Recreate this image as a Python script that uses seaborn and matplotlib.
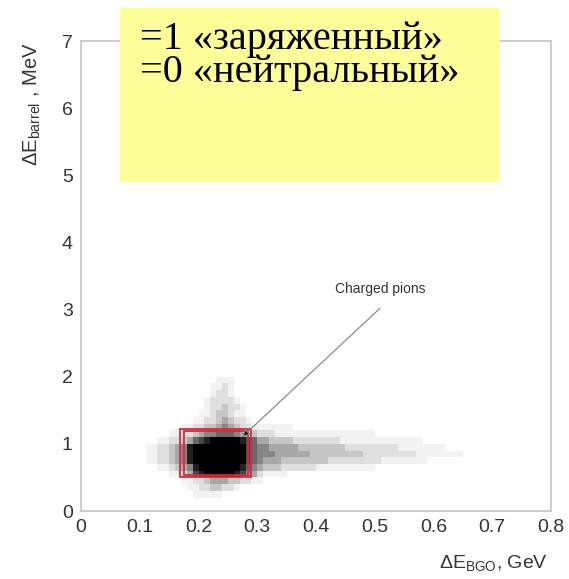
import numpy as np
import pandas as pd
import matplotlib
matplotlib.use("Agg")
import matplotlib.pyplot as plt
import seaborn as sns
from matplotlib.patches import Rectangle
from matplotlib.ticker import MultipleLocator

# ---- data ----
# 2D histogram: x bins of 0.01 GeV starting at 0.10, y bins of 0.1 MeV
x_bin_start = 0.10
x_bin_width = 0.01
n_x_bins = 60
y_bin_width = 0.1
# lower edge of each y-row (top to bottom)
row_y = [1.9, 1.8, 1.7, 1.6, 1.5, 1.4, 1.3, 1.2, 1.1, 1.0,
         0.9, 0.8, 0.7, 0.6, 0.5, 0.4, 0.3, 0.2]
# first x-bin index of each row and the intensities (0-9) that follow
row_start = [13, 12, 12, 11, 11, 10, 9, 7, 5, 3,
             1, 1, 1, 3, 5, 7, 8, 9]
row_levels = [
    "111",
    "1121",
    "1221",
    "122221",
    "1223221",
    "11233211",
    "1122343221",
    "1122334543221" + "111111",
    "1122345566654332" + "2211111111111111111",
    "11223467899999876" + "4433332222222211111111111111",
    "11223458999999999765" + "5444443333333322222222211111111",
    "11223458999999999765" + "5544444433333333322222222211111111",
    "11223458999999999765" + "4443333333322222222211111111",
    "112345899999998654" + "3332222221111111111",
    "1124789999987542" + "1111",
    "11223444332211",
    "112233221",
    "11111",
]

x_ticks = [0, 0.1, 0.2, 0.3, 0.4, 0.5, 0.6, 0.7, 0.8]
x_tick_labels = ["0", "0.1", "0.2", "0.3", "0.4", "0.5", "0.6", "0.7", "0.8"]
y_ticks = [0, 1, 2, 3, 4, 5, 6, 7]
y_tick_labels = ["0", "1", "2", "3", "4", "5", "6", "7"]

cut_outer = (0.168, 0.50, 0.290, 1.22)
cut_inner = (0.176, 0.535, 0.284, 1.185)
arrow_tip = (0.274, 1.10)
arrow_tail = (0.509, 3.02)
note_pos = (0.509, 3.31)
note_text = "Charged pions"
legend_lines = ["=1 «заряженный»", "=0 «нейтральный»"]

# ---- build table ----
recs = []
for y0, s0, lev in zip(row_y, row_start, row_levels):
    for j, ch in enumerate(lev):
        v = int(ch)
        if v > 0:
            recs.append({"x": x_bin_start + x_bin_width * (s0 + j + 0.5),
                         "y": y0 + y_bin_width / 2,
                         "w": v})
df = pd.DataFrame(recs)
x_edges = np.round(x_bin_start + x_bin_width * np.arange(n_x_bins + 1), 4)
y_edges = np.round(np.arange(0, 2.01, y_bin_width), 4)

# ---- figure ----
sns.set_style("white")
plt.rcParams["font.family"] = ["Liberation Sans", "DejaVu Sans"]
plt.rcParams["mathtext.default"] = "regular"

W, H = 569, 579
fig = plt.figure(figsize=(W / 100, H / 100), dpi=100)
ax = fig.add_axes([81 / W, 1 - 511 / H, 470 / W, 470 / H])

sns.histplot(data=df, x="x", y="y", weights="w", bins=[x_edges, y_edges],
             cmap="Greys", vmin=0, vmax=9, ax=ax)

ax.set_xlim(0, 0.8)
ax.set_ylim(0, 7)
ax.set_xticks(x_ticks)
ax.set_xticklabels(x_tick_labels)
ax.set_yticks(y_ticks)
ax.set_yticklabels(y_tick_labels)
ax.xaxis.set_minor_locator(MultipleLocator(0.02))
ax.yaxis.set_minor_locator(MultipleLocator(0.5))
ax.tick_params(which="both", direction="in", color="#b8b8b8", top=False, right=False)
ax.tick_params(which="major", length=5, width=1, labelsize=14, labelcolor="#333333", pad=6)
ax.tick_params(which="minor", length=3, width=0.8)
for sp in ax.spines.values():
    sp.set_color("#c4c4c4")
    sp.set_linewidth(1.2)
ax.set_xlabel("")
ax.set_ylabel("")

# cut rectangles
for (x0, y0, x1, y1) in (cut_outer, cut_inner):
    ax.add_patch(Rectangle((x0, y0), x1 - x0, y1 - y0, fill=False,
                           ec="#d42a3c", lw=1.3, zorder=4))

# annotation
ax.annotate("", xy=arrow_tip, xytext=arrow_tail,
            arrowprops=dict(arrowstyle="-|>", color="#8a8a8a", fc="black",
                            lw=0.9, mutation_scale=11, shrinkA=0, shrinkB=0),
            zorder=5)
ax.text(note_pos[0], note_pos[1], note_text, ha="center", va="center",
        fontsize=10, color="#333333")

# axis labels
fig.text(548 / W, 1 - 563 / H, r"$\Delta$E$_{BGO}$, GeV", ha="right", va="center",
         fontsize=14, color="#333333")
fig.text(32 / W, 1 - 104 / H, r"$\Delta$E$_{barrel}$ , MeV", ha="center", va="center",
         rotation=90, fontsize=14.5, color="#333333")

# yellow box with text
fig.patches.append(Rectangle((120 / W, 1 - 182 / H), 380 / W, 174 / H,
                             transform=fig.transFigure, fc="#ffff99", ec="none",
                             zorder=10))
fig.text(140 / W, 1 - 56 / H, "\n".join(legend_lines), ha="left", va="center",
         fontsize=29, linespacing=0.86, family=["Liberation Serif", "DejaVu Serif"],
         color="black", zorder=11)

fig.savefig("out.png", dpi=100)
